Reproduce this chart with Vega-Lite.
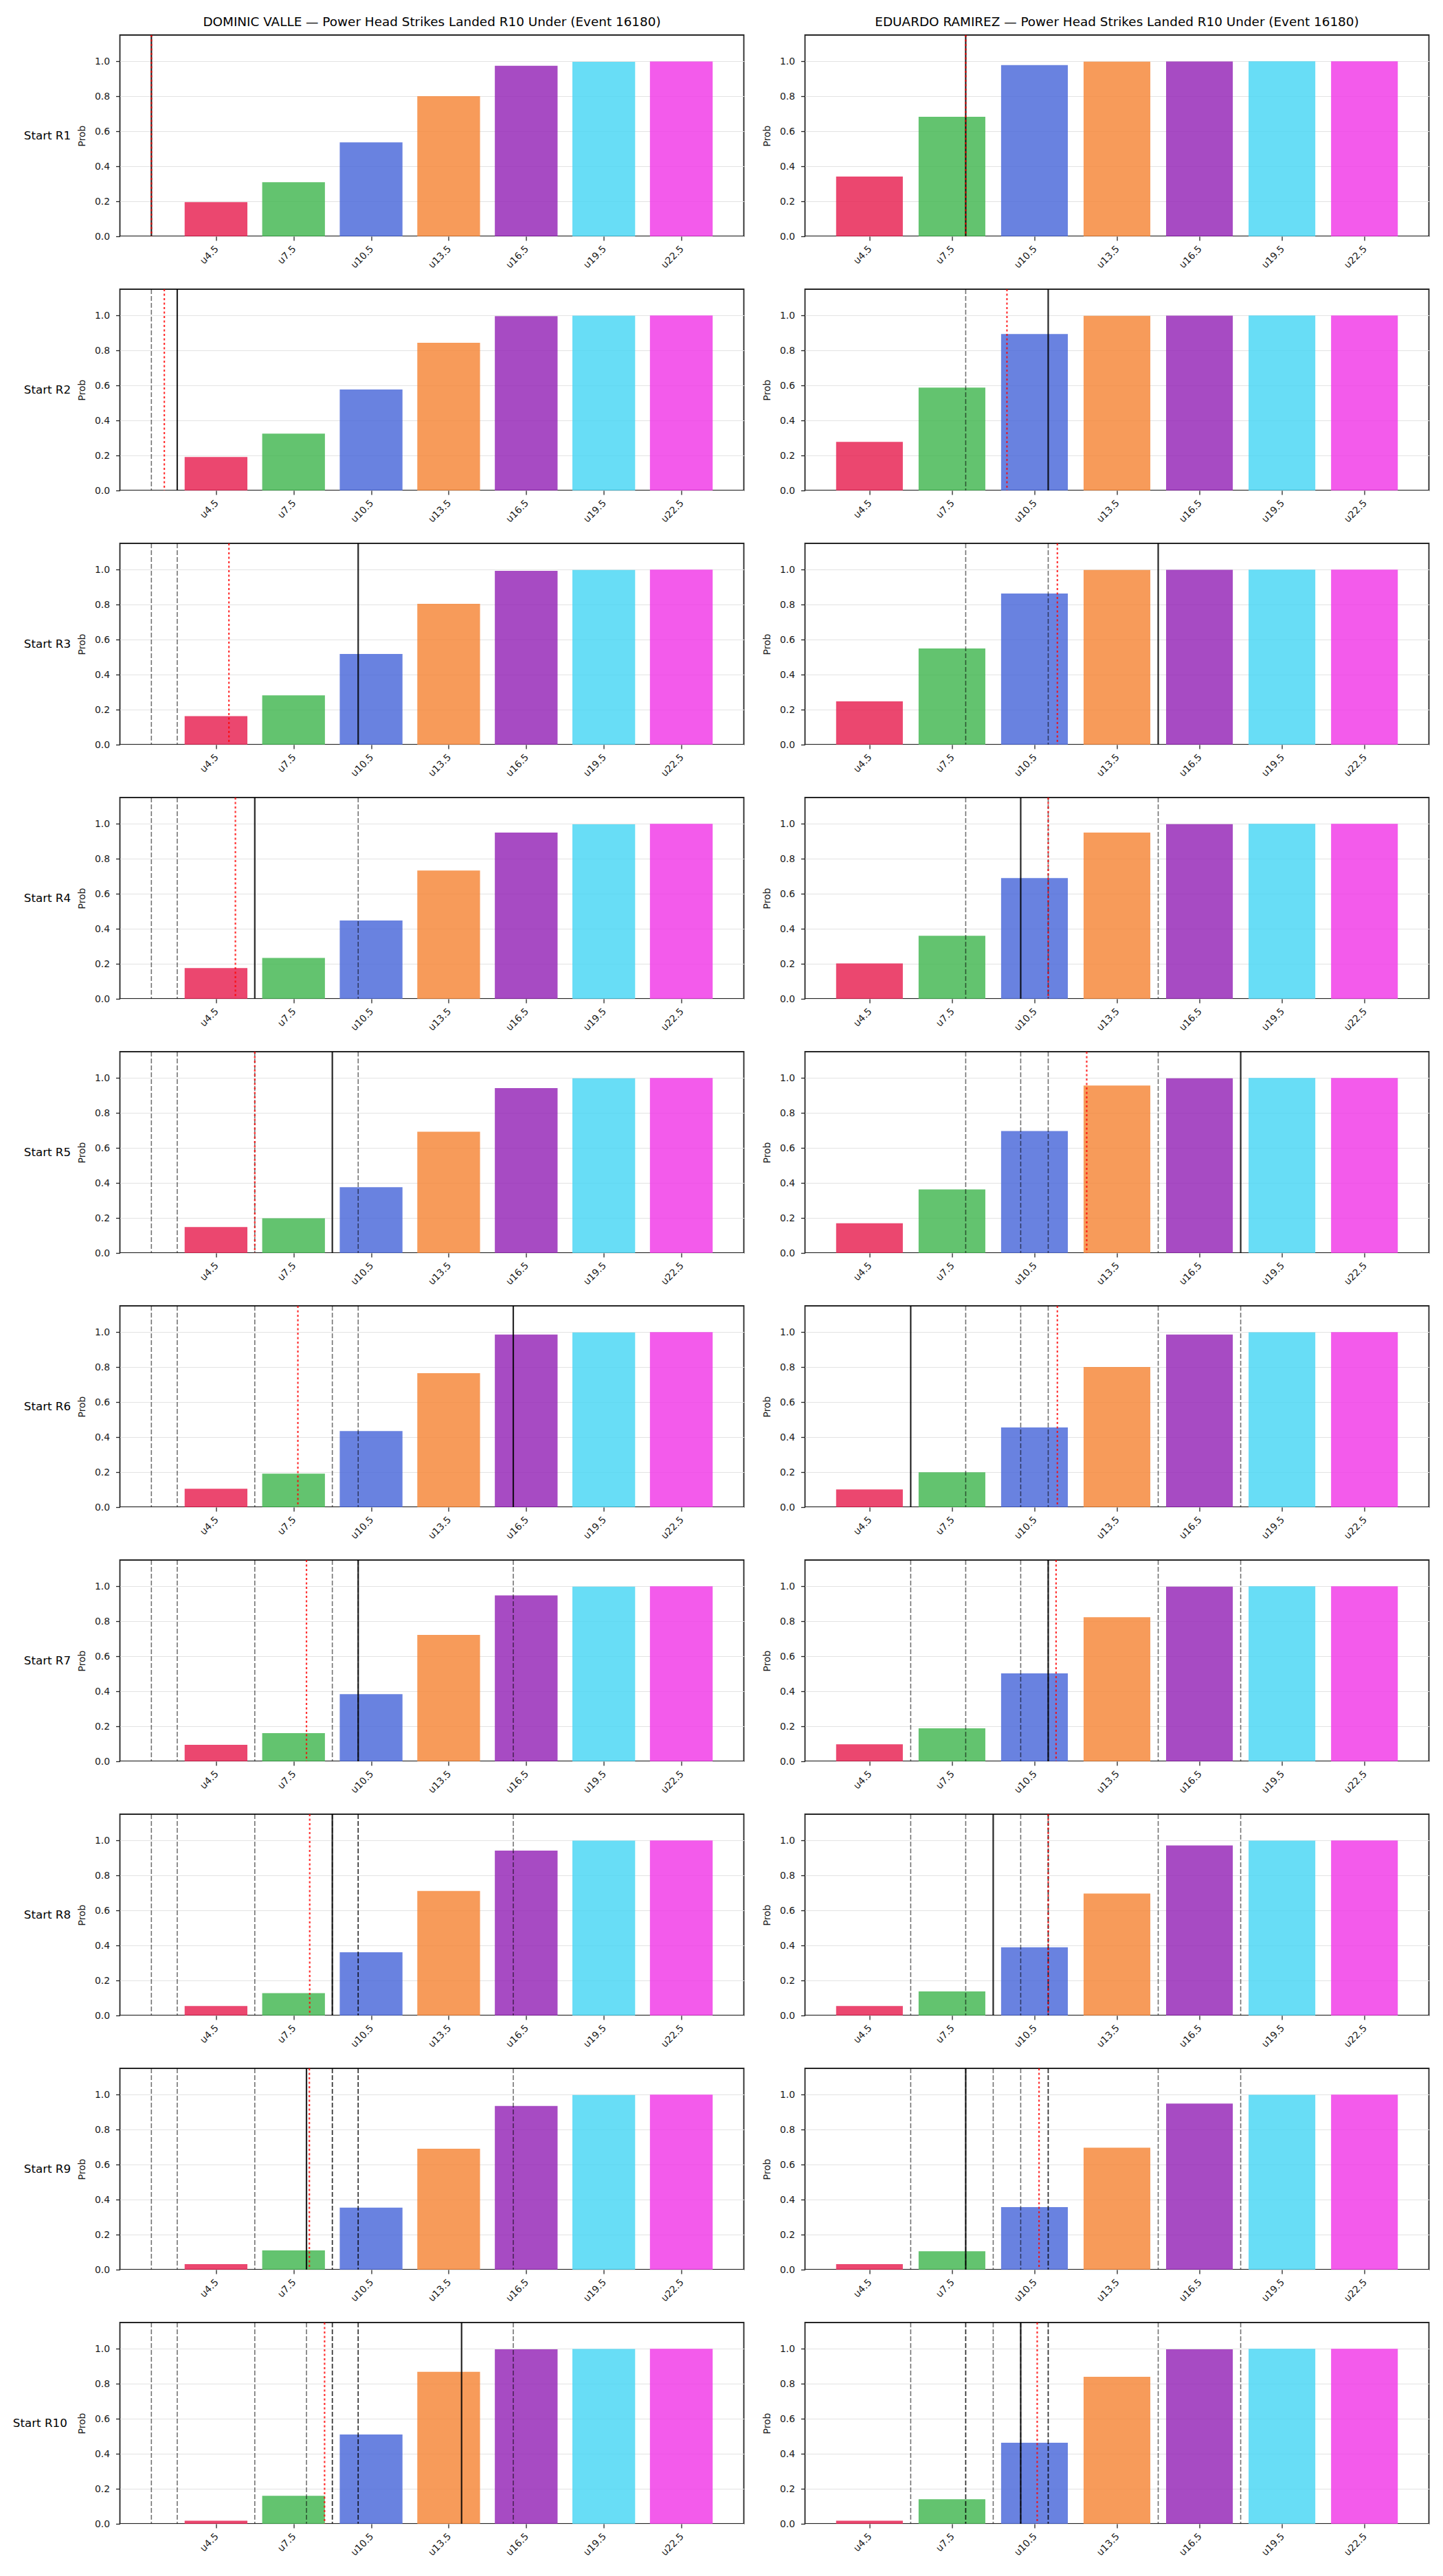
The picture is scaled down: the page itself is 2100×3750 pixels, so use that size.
{
  "$schema": "https://vega.github.io/schema/vega-lite/v6.json",
  "background": "white",
  "padding": {"left": 18.5, "top": 22, "right": 5, "bottom": 10},
  "config": {
    "font": "DejaVu Sans",
    "view": {"stroke": "#262626", "strokeWidth": 1.8},
    "title": {"fontSize": 18.4, "fontWeight": "normal", "color": "#000000", "anchor": "middle", "frame": "group", "baseline": "alphabetic", "offset": 8, "dx": 454},
    "axis": {"labelFontSize": 13.9, "labelColor": "#1a1a1a", "tickColor": "#262626", "tickSize": 6, "tickWidth": 1.3, "domain": false, "titleFontSize": 13.9, "titleFontWeight": "normal", "titleColor": "#1a1a1a"},
    "header": {"labelFontSize": 16.7, "labelColor": "#000000"}
  },
  "datasets": {
    "valle": [
      {"start": "Start R1", "kind": "bar", "line": "u4.5", "strike": 4.5, "prob": 0.195},
      {"start": "Start R1", "kind": "bar", "line": "u7.5", "strike": 7.5, "prob": 0.309},
      {"start": "Start R1", "kind": "bar", "line": "u10.5", "strike": 10.5, "prob": 0.537},
      {"start": "Start R1", "kind": "bar", "line": "u13.5", "strike": 13.5, "prob": 0.801},
      {"start": "Start R1", "kind": "bar", "line": "u16.5", "strike": 16.5, "prob": 0.974},
      {"start": "Start R1", "kind": "bar", "line": "u19.5", "strike": 19.5, "prob": 0.997},
      {"start": "Start R1", "kind": "bar", "line": "u22.5", "strike": 22.5, "prob": 0.999},
      {"start": "Start R2", "kind": "bar", "line": "u4.5", "strike": 4.5, "prob": 0.191},
      {"start": "Start R2", "kind": "bar", "line": "u7.5", "strike": 7.5, "prob": 0.325},
      {"start": "Start R2", "kind": "bar", "line": "u10.5", "strike": 10.5, "prob": 0.577},
      {"start": "Start R2", "kind": "bar", "line": "u13.5", "strike": 13.5, "prob": 0.844},
      {"start": "Start R2", "kind": "bar", "line": "u16.5", "strike": 16.5, "prob": 0.996},
      {"start": "Start R2", "kind": "bar", "line": "u19.5", "strike": 19.5, "prob": 0.999},
      {"start": "Start R2", "kind": "bar", "line": "u22.5", "strike": 22.5, "prob": 1.0},
      {"start": "Start R3", "kind": "bar", "line": "u4.5", "strike": 4.5, "prob": 0.163},
      {"start": "Start R3", "kind": "bar", "line": "u7.5", "strike": 7.5, "prob": 0.282},
      {"start": "Start R3", "kind": "bar", "line": "u10.5", "strike": 10.5, "prob": 0.518},
      {"start": "Start R3", "kind": "bar", "line": "u13.5", "strike": 13.5, "prob": 0.805},
      {"start": "Start R3", "kind": "bar", "line": "u16.5", "strike": 16.5, "prob": 0.993},
      {"start": "Start R3", "kind": "bar", "line": "u19.5", "strike": 19.5, "prob": 0.998},
      {"start": "Start R3", "kind": "bar", "line": "u22.5", "strike": 22.5, "prob": 1.0},
      {"start": "Start R4", "kind": "bar", "line": "u4.5", "strike": 4.5, "prob": 0.176},
      {"start": "Start R4", "kind": "bar", "line": "u7.5", "strike": 7.5, "prob": 0.234},
      {"start": "Start R4", "kind": "bar", "line": "u10.5", "strike": 10.5, "prob": 0.447},
      {"start": "Start R4", "kind": "bar", "line": "u13.5", "strike": 13.5, "prob": 0.733},
      {"start": "Start R4", "kind": "bar", "line": "u16.5", "strike": 16.5, "prob": 0.95},
      {"start": "Start R4", "kind": "bar", "line": "u19.5", "strike": 19.5, "prob": 0.997},
      {"start": "Start R4", "kind": "bar", "line": "u22.5", "strike": 22.5, "prob": 1.0},
      {"start": "Start R5", "kind": "bar", "line": "u4.5", "strike": 4.5, "prob": 0.148},
      {"start": "Start R5", "kind": "bar", "line": "u7.5", "strike": 7.5, "prob": 0.198},
      {"start": "Start R5", "kind": "bar", "line": "u10.5", "strike": 10.5, "prob": 0.376},
      {"start": "Start R5", "kind": "bar", "line": "u13.5", "strike": 13.5, "prob": 0.693},
      {"start": "Start R5", "kind": "bar", "line": "u16.5", "strike": 16.5, "prob": 0.942},
      {"start": "Start R5", "kind": "bar", "line": "u19.5", "strike": 19.5, "prob": 0.998},
      {"start": "Start R5", "kind": "bar", "line": "u22.5", "strike": 22.5, "prob": 1.0},
      {"start": "Start R6", "kind": "bar", "line": "u4.5", "strike": 4.5, "prob": 0.105},
      {"start": "Start R6", "kind": "bar", "line": "u7.5", "strike": 7.5, "prob": 0.191},
      {"start": "Start R6", "kind": "bar", "line": "u10.5", "strike": 10.5, "prob": 0.435},
      {"start": "Start R6", "kind": "bar", "line": "u13.5", "strike": 13.5, "prob": 0.765},
      {"start": "Start R6", "kind": "bar", "line": "u16.5", "strike": 16.5, "prob": 0.986},
      {"start": "Start R6", "kind": "bar", "line": "u19.5", "strike": 19.5, "prob": 0.998},
      {"start": "Start R6", "kind": "bar", "line": "u22.5", "strike": 22.5, "prob": 1.0},
      {"start": "Start R7", "kind": "bar", "line": "u4.5", "strike": 4.5, "prob": 0.094},
      {"start": "Start R7", "kind": "bar", "line": "u7.5", "strike": 7.5, "prob": 0.161},
      {"start": "Start R7", "kind": "bar", "line": "u10.5", "strike": 10.5, "prob": 0.384},
      {"start": "Start R7", "kind": "bar", "line": "u13.5", "strike": 13.5, "prob": 0.722},
      {"start": "Start R7", "kind": "bar", "line": "u16.5", "strike": 16.5, "prob": 0.948},
      {"start": "Start R7", "kind": "bar", "line": "u19.5", "strike": 19.5, "prob": 0.998},
      {"start": "Start R7", "kind": "bar", "line": "u22.5", "strike": 22.5, "prob": 1.0},
      {"start": "Start R8", "kind": "bar", "line": "u4.5", "strike": 4.5, "prob": 0.054},
      {"start": "Start R8", "kind": "bar", "line": "u7.5", "strike": 7.5, "prob": 0.128},
      {"start": "Start R8", "kind": "bar", "line": "u10.5", "strike": 10.5, "prob": 0.361},
      {"start": "Start R8", "kind": "bar", "line": "u13.5", "strike": 13.5, "prob": 0.711},
      {"start": "Start R8", "kind": "bar", "line": "u16.5", "strike": 16.5, "prob": 0.942},
      {"start": "Start R8", "kind": "bar", "line": "u19.5", "strike": 19.5, "prob": 0.999},
      {"start": "Start R8", "kind": "bar", "line": "u22.5", "strike": 22.5, "prob": 1.0},
      {"start": "Start R9", "kind": "bar", "line": "u4.5", "strike": 4.5, "prob": 0.031},
      {"start": "Start R9", "kind": "bar", "line": "u7.5", "strike": 7.5, "prob": 0.11},
      {"start": "Start R9", "kind": "bar", "line": "u10.5", "strike": 10.5, "prob": 0.354},
      {"start": "Start R9", "kind": "bar", "line": "u13.5", "strike": 13.5, "prob": 0.691},
      {"start": "Start R9", "kind": "bar", "line": "u16.5", "strike": 16.5, "prob": 0.935},
      {"start": "Start R9", "kind": "bar", "line": "u19.5", "strike": 19.5, "prob": 0.998},
      {"start": "Start R9", "kind": "bar", "line": "u22.5", "strike": 22.5, "prob": 1.0},
      {"start": "Start R10", "kind": "bar", "line": "u4.5", "strike": 4.5, "prob": 0.018},
      {"start": "Start R10", "kind": "bar", "line": "u7.5", "strike": 7.5, "prob": 0.16},
      {"start": "Start R10", "kind": "bar", "line": "u10.5", "strike": 10.5, "prob": 0.51},
      {"start": "Start R10", "kind": "bar", "line": "u13.5", "strike": 13.5, "prob": 0.868},
      {"start": "Start R10", "kind": "bar", "line": "u16.5", "strike": 16.5, "prob": 0.997},
      {"start": "Start R10", "kind": "bar", "line": "u19.5", "strike": 19.5, "prob": 0.999},
      {"start": "Start R10", "kind": "bar", "line": "u22.5", "strike": 22.5, "prob": 1.0},
      {"start": "Start R1", "kind": "round", "strike": 2},
      {"start": "Start R1", "kind": "mean", "strike": 2},
      {"start": "Start R2", "kind": "prior", "strike": 2},
      {"start": "Start R2", "kind": "round", "strike": 3},
      {"start": "Start R2", "kind": "mean", "strike": 2.5},
      {"start": "Start R3", "kind": "prior", "strike": 2},
      {"start": "Start R3", "kind": "prior", "strike": 3},
      {"start": "Start R3", "kind": "round", "strike": 10},
      {"start": "Start R3", "kind": "mean", "strike": 5},
      {"start": "Start R4", "kind": "prior", "strike": 2},
      {"start": "Start R4", "kind": "prior", "strike": 3},
      {"start": "Start R4", "kind": "prior", "strike": 10},
      {"start": "Start R4", "kind": "round", "strike": 6},
      {"start": "Start R4", "kind": "mean", "strike": 5.25},
      {"start": "Start R5", "kind": "prior", "strike": 2},
      {"start": "Start R5", "kind": "prior", "strike": 3},
      {"start": "Start R5", "kind": "prior", "strike": 10},
      {"start": "Start R5", "kind": "prior", "strike": 6},
      {"start": "Start R5", "kind": "round", "strike": 9},
      {"start": "Start R5", "kind": "mean", "strike": 6},
      {"start": "Start R6", "kind": "prior", "strike": 2},
      {"start": "Start R6", "kind": "prior", "strike": 3},
      {"start": "Start R6", "kind": "prior", "strike": 10},
      {"start": "Start R6", "kind": "prior", "strike": 6},
      {"start": "Start R6", "kind": "prior", "strike": 9},
      {"start": "Start R6", "kind": "round", "strike": 16},
      {"start": "Start R6", "kind": "mean", "strike": 7.667},
      {"start": "Start R7", "kind": "prior", "strike": 2},
      {"start": "Start R7", "kind": "prior", "strike": 3},
      {"start": "Start R7", "kind": "prior", "strike": 10},
      {"start": "Start R7", "kind": "prior", "strike": 6},
      {"start": "Start R7", "kind": "prior", "strike": 9},
      {"start": "Start R7", "kind": "prior", "strike": 16},
      {"start": "Start R7", "kind": "round", "strike": 10},
      {"start": "Start R7", "kind": "mean", "strike": 8},
      {"start": "Start R8", "kind": "prior", "strike": 2},
      {"start": "Start R8", "kind": "prior", "strike": 3},
      {"start": "Start R8", "kind": "prior", "strike": 10},
      {"start": "Start R8", "kind": "prior", "strike": 6},
      {"start": "Start R8", "kind": "prior", "strike": 9},
      {"start": "Start R8", "kind": "prior", "strike": 16},
      {"start": "Start R8", "kind": "prior", "strike": 10},
      {"start": "Start R8", "kind": "round", "strike": 9},
      {"start": "Start R8", "kind": "mean", "strike": 8.125},
      {"start": "Start R9", "kind": "prior", "strike": 2},
      {"start": "Start R9", "kind": "prior", "strike": 3},
      {"start": "Start R9", "kind": "prior", "strike": 10},
      {"start": "Start R9", "kind": "prior", "strike": 6},
      {"start": "Start R9", "kind": "prior", "strike": 9},
      {"start": "Start R9", "kind": "prior", "strike": 16},
      {"start": "Start R9", "kind": "prior", "strike": 10},
      {"start": "Start R9", "kind": "prior", "strike": 9},
      {"start": "Start R9", "kind": "round", "strike": 8},
      {"start": "Start R9", "kind": "mean", "strike": 8.111},
      {"start": "Start R10", "kind": "prior", "strike": 2},
      {"start": "Start R10", "kind": "prior", "strike": 3},
      {"start": "Start R10", "kind": "prior", "strike": 10},
      {"start": "Start R10", "kind": "prior", "strike": 6},
      {"start": "Start R10", "kind": "prior", "strike": 9},
      {"start": "Start R10", "kind": "prior", "strike": 16},
      {"start": "Start R10", "kind": "prior", "strike": 10},
      {"start": "Start R10", "kind": "prior", "strike": 9},
      {"start": "Start R10", "kind": "prior", "strike": 8},
      {"start": "Start R10", "kind": "round", "strike": 14},
      {"start": "Start R10", "kind": "mean", "strike": 8.7}
    ],
    "ramirez": [
      {"start": "Start R1", "kind": "bar", "line": "u4.5", "strike": 4.5, "prob": 0.341},
      {"start": "Start R1", "kind": "bar", "line": "u7.5", "strike": 7.5, "prob": 0.683},
      {"start": "Start R1", "kind": "bar", "line": "u10.5", "strike": 10.5, "prob": 0.978},
      {"start": "Start R1", "kind": "bar", "line": "u13.5", "strike": 13.5, "prob": 0.998},
      {"start": "Start R1", "kind": "bar", "line": "u16.5", "strike": 16.5, "prob": 0.999},
      {"start": "Start R1", "kind": "bar", "line": "u19.5", "strike": 19.5, "prob": 1.0},
      {"start": "Start R1", "kind": "bar", "line": "u22.5", "strike": 22.5, "prob": 1.0},
      {"start": "Start R2", "kind": "bar", "line": "u4.5", "strike": 4.5, "prob": 0.278},
      {"start": "Start R2", "kind": "bar", "line": "u7.5", "strike": 7.5, "prob": 0.588},
      {"start": "Start R2", "kind": "bar", "line": "u10.5", "strike": 10.5, "prob": 0.894},
      {"start": "Start R2", "kind": "bar", "line": "u13.5", "strike": 13.5, "prob": 0.998},
      {"start": "Start R2", "kind": "bar", "line": "u16.5", "strike": 16.5, "prob": 0.999},
      {"start": "Start R2", "kind": "bar", "line": "u19.5", "strike": 19.5, "prob": 1.0},
      {"start": "Start R2", "kind": "bar", "line": "u22.5", "strike": 22.5, "prob": 1.0},
      {"start": "Start R3", "kind": "bar", "line": "u4.5", "strike": 4.5, "prob": 0.247},
      {"start": "Start R3", "kind": "bar", "line": "u7.5", "strike": 7.5, "prob": 0.549},
      {"start": "Start R3", "kind": "bar", "line": "u10.5", "strike": 10.5, "prob": 0.863},
      {"start": "Start R3", "kind": "bar", "line": "u13.5", "strike": 13.5, "prob": 0.998},
      {"start": "Start R3", "kind": "bar", "line": "u16.5", "strike": 16.5, "prob": 0.999},
      {"start": "Start R3", "kind": "bar", "line": "u19.5", "strike": 19.5, "prob": 1.0},
      {"start": "Start R3", "kind": "bar", "line": "u22.5", "strike": 22.5, "prob": 1.0},
      {"start": "Start R4", "kind": "bar", "line": "u4.5", "strike": 4.5, "prob": 0.202},
      {"start": "Start R4", "kind": "bar", "line": "u7.5", "strike": 7.5, "prob": 0.36},
      {"start": "Start R4", "kind": "bar", "line": "u10.5", "strike": 10.5, "prob": 0.69},
      {"start": "Start R4", "kind": "bar", "line": "u13.5", "strike": 13.5, "prob": 0.95},
      {"start": "Start R4", "kind": "bar", "line": "u16.5", "strike": 16.5, "prob": 0.998},
      {"start": "Start R4", "kind": "bar", "line": "u19.5", "strike": 19.5, "prob": 1.0},
      {"start": "Start R4", "kind": "bar", "line": "u22.5", "strike": 22.5, "prob": 1.0},
      {"start": "Start R5", "kind": "bar", "line": "u4.5", "strike": 4.5, "prob": 0.17},
      {"start": "Start R5", "kind": "bar", "line": "u7.5", "strike": 7.5, "prob": 0.363},
      {"start": "Start R5", "kind": "bar", "line": "u10.5", "strike": 10.5, "prob": 0.697},
      {"start": "Start R5", "kind": "bar", "line": "u13.5", "strike": 13.5, "prob": 0.957},
      {"start": "Start R5", "kind": "bar", "line": "u16.5", "strike": 16.5, "prob": 0.998},
      {"start": "Start R5", "kind": "bar", "line": "u19.5", "strike": 19.5, "prob": 1.0},
      {"start": "Start R5", "kind": "bar", "line": "u22.5", "strike": 22.5, "prob": 1.0},
      {"start": "Start R6", "kind": "bar", "line": "u4.5", "strike": 4.5, "prob": 0.101},
      {"start": "Start R6", "kind": "bar", "line": "u7.5", "strike": 7.5, "prob": 0.199},
      {"start": "Start R6", "kind": "bar", "line": "u10.5", "strike": 10.5, "prob": 0.455},
      {"start": "Start R6", "kind": "bar", "line": "u13.5", "strike": 13.5, "prob": 0.801},
      {"start": "Start R6", "kind": "bar", "line": "u16.5", "strike": 16.5, "prob": 0.986},
      {"start": "Start R6", "kind": "bar", "line": "u19.5", "strike": 19.5, "prob": 0.999},
      {"start": "Start R6", "kind": "bar", "line": "u22.5", "strike": 22.5, "prob": 1.0},
      {"start": "Start R7", "kind": "bar", "line": "u4.5", "strike": 4.5, "prob": 0.097},
      {"start": "Start R7", "kind": "bar", "line": "u7.5", "strike": 7.5, "prob": 0.188},
      {"start": "Start R7", "kind": "bar", "line": "u10.5", "strike": 10.5, "prob": 0.502},
      {"start": "Start R7", "kind": "bar", "line": "u13.5", "strike": 13.5, "prob": 0.823},
      {"start": "Start R7", "kind": "bar", "line": "u16.5", "strike": 16.5, "prob": 0.998},
      {"start": "Start R7", "kind": "bar", "line": "u19.5", "strike": 19.5, "prob": 1.0},
      {"start": "Start R7", "kind": "bar", "line": "u22.5", "strike": 22.5, "prob": 1.0},
      {"start": "Start R8", "kind": "bar", "line": "u4.5", "strike": 4.5, "prob": 0.054},
      {"start": "Start R8", "kind": "bar", "line": "u7.5", "strike": 7.5, "prob": 0.137},
      {"start": "Start R8", "kind": "bar", "line": "u10.5", "strike": 10.5, "prob": 0.39},
      {"start": "Start R8", "kind": "bar", "line": "u13.5", "strike": 13.5, "prob": 0.697},
      {"start": "Start R8", "kind": "bar", "line": "u16.5", "strike": 16.5, "prob": 0.971},
      {"start": "Start R8", "kind": "bar", "line": "u19.5", "strike": 19.5, "prob": 0.999},
      {"start": "Start R8", "kind": "bar", "line": "u22.5", "strike": 22.5, "prob": 1.0},
      {"start": "Start R9", "kind": "bar", "line": "u4.5", "strike": 4.5, "prob": 0.031},
      {"start": "Start R9", "kind": "bar", "line": "u7.5", "strike": 7.5, "prob": 0.105},
      {"start": "Start R9", "kind": "bar", "line": "u10.5", "strike": 10.5, "prob": 0.357},
      {"start": "Start R9", "kind": "bar", "line": "u13.5", "strike": 13.5, "prob": 0.697},
      {"start": "Start R9", "kind": "bar", "line": "u16.5", "strike": 16.5, "prob": 0.949},
      {"start": "Start R9", "kind": "bar", "line": "u19.5", "strike": 19.5, "prob": 0.999},
      {"start": "Start R9", "kind": "bar", "line": "u22.5", "strike": 22.5, "prob": 1.0},
      {"start": "Start R10", "kind": "bar", "line": "u4.5", "strike": 4.5, "prob": 0.018},
      {"start": "Start R10", "kind": "bar", "line": "u7.5", "strike": 7.5, "prob": 0.14},
      {"start": "Start R10", "kind": "bar", "line": "u10.5", "strike": 10.5, "prob": 0.463},
      {"start": "Start R10", "kind": "bar", "line": "u13.5", "strike": 13.5, "prob": 0.84},
      {"start": "Start R10", "kind": "bar", "line": "u16.5", "strike": 16.5, "prob": 0.997},
      {"start": "Start R10", "kind": "bar", "line": "u19.5", "strike": 19.5, "prob": 1.0},
      {"start": "Start R10", "kind": "bar", "line": "u22.5", "strike": 22.5, "prob": 1.0},
      {"start": "Start R1", "kind": "round", "strike": 8},
      {"start": "Start R1", "kind": "mean", "strike": 8},
      {"start": "Start R2", "kind": "prior", "strike": 8},
      {"start": "Start R2", "kind": "round", "strike": 11},
      {"start": "Start R2", "kind": "mean", "strike": 9.5},
      {"start": "Start R3", "kind": "prior", "strike": 8},
      {"start": "Start R3", "kind": "prior", "strike": 11},
      {"start": "Start R3", "kind": "round", "strike": 15},
      {"start": "Start R3", "kind": "mean", "strike": 11.333},
      {"start": "Start R4", "kind": "prior", "strike": 8},
      {"start": "Start R4", "kind": "prior", "strike": 11},
      {"start": "Start R4", "kind": "prior", "strike": 15},
      {"start": "Start R4", "kind": "round", "strike": 10},
      {"start": "Start R4", "kind": "mean", "strike": 11},
      {"start": "Start R5", "kind": "prior", "strike": 8},
      {"start": "Start R5", "kind": "prior", "strike": 11},
      {"start": "Start R5", "kind": "prior", "strike": 15},
      {"start": "Start R5", "kind": "prior", "strike": 10},
      {"start": "Start R5", "kind": "round", "strike": 18},
      {"start": "Start R5", "kind": "mean", "strike": 12.4},
      {"start": "Start R6", "kind": "prior", "strike": 8},
      {"start": "Start R6", "kind": "prior", "strike": 11},
      {"start": "Start R6", "kind": "prior", "strike": 15},
      {"start": "Start R6", "kind": "prior", "strike": 10},
      {"start": "Start R6", "kind": "prior", "strike": 18},
      {"start": "Start R6", "kind": "round", "strike": 6},
      {"start": "Start R6", "kind": "mean", "strike": 11.333},
      {"start": "Start R7", "kind": "prior", "strike": 8},
      {"start": "Start R7", "kind": "prior", "strike": 11},
      {"start": "Start R7", "kind": "prior", "strike": 15},
      {"start": "Start R7", "kind": "prior", "strike": 10},
      {"start": "Start R7", "kind": "prior", "strike": 18},
      {"start": "Start R7", "kind": "prior", "strike": 6},
      {"start": "Start R7", "kind": "round", "strike": 11},
      {"start": "Start R7", "kind": "mean", "strike": 11.286},
      {"start": "Start R8", "kind": "prior", "strike": 8},
      {"start": "Start R8", "kind": "prior", "strike": 11},
      {"start": "Start R8", "kind": "prior", "strike": 15},
      {"start": "Start R8", "kind": "prior", "strike": 10},
      {"start": "Start R8", "kind": "prior", "strike": 18},
      {"start": "Start R8", "kind": "prior", "strike": 6},
      {"start": "Start R8", "kind": "prior", "strike": 11},
      {"start": "Start R8", "kind": "round", "strike": 9},
      {"start": "Start R8", "kind": "mean", "strike": 11},
      {"start": "Start R9", "kind": "prior", "strike": 8},
      {"start": "Start R9", "kind": "prior", "strike": 11},
      {"start": "Start R9", "kind": "prior", "strike": 15},
      {"start": "Start R9", "kind": "prior", "strike": 10},
      {"start": "Start R9", "kind": "prior", "strike": 18},
      {"start": "Start R9", "kind": "prior", "strike": 6},
      {"start": "Start R9", "kind": "prior", "strike": 11},
      {"start": "Start R9", "kind": "prior", "strike": 9},
      {"start": "Start R9", "kind": "round", "strike": 8},
      {"start": "Start R9", "kind": "mean", "strike": 10.667},
      {"start": "Start R10", "kind": "prior", "strike": 8},
      {"start": "Start R10", "kind": "prior", "strike": 11},
      {"start": "Start R10", "kind": "prior", "strike": 15},
      {"start": "Start R10", "kind": "prior", "strike": 10},
      {"start": "Start R10", "kind": "prior", "strike": 18},
      {"start": "Start R10", "kind": "prior", "strike": 6},
      {"start": "Start R10", "kind": "prior", "strike": 11},
      {"start": "Start R10", "kind": "prior", "strike": 9},
      {"start": "Start R10", "kind": "prior", "strike": 8},
      {"start": "Start R10", "kind": "round", "strike": 10},
      {"start": "Start R10", "kind": "mean", "strike": 10.6}
    ]
  },
  "hconcat": [
    {
      "data": {"name": "valle"},
      "title": "DOMINIC VALLE — Power Head Strikes Landed R10 Under (Event 16180)",
      "facet": {
        "row": {
          "field": "start", "type": "nominal",
          "sort": ["Start R1", "Start R2", "Start R3", "Start R4", "Start R5", "Start R6", "Start R7", "Start R8", "Start R9", "Start R10"],
          "header": {"title": null, "labelAngle": 0, "labelOrient": "left", "labelAlign": "center", "labelPadding": -24.8}
        }
      },
      "spacing": 77,
      "bounds": "flush",
      "resolve": {"axis": {"x": "independent"}},
      "spec": {
        "width": 908,
        "height": 293,
        "encoding": {
          "x": {
            "field": "strike", "type": "quantitative",
            "scale": {"domain": [0.915, 24.786], "nice": false, "zero": false},
            "axis": {"values": [4.5, 7.5, 10.5, 13.5, 16.5, 19.5, 22.5], "labelExpr": "'u' + datum.value", "labelAngle": -45, "labelAlign": "right", "labelBaseline": "top", "labelPadding": 5, "labelOffset": -4, "grid": false, "title": null}
          }
        },
        "layer": [
          {
            "transform": [{"filter": "datum.kind === 'bar'"}],
            "mark": {"type": "bar", "width": 91.3, "opacity": 0.8},
            "encoding": {
              "y": {"field": "prob", "type": "quantitative", "title": "Prob",
                    "scale": {"domain": [0, 1.15], "nice": false},
                    "axis": {"values": [0, 0.2, 0.4, 0.6, 0.8, 1.0], "format": ".1f", "grid": true, "gridColor": "#e3e3e3", "gridWidth": 1.1, "labelPadding": 9, "titlePadding": 11}},
              "color": {"field": "line", "type": "nominal", "legend": null,
                        "scale": {"domain": ["u4.5", "u7.5", "u10.5", "u13.5", "u16.5", "u19.5", "u22.5"],
                                  "range": ["#e6194b", "#3cb44b", "#4363d8", "#f58231", "#911eb4", "#42d4f4", "#f032e6"]}}
            }
          },
          {
            "transform": [{"filter": "datum.kind === 'prior'"}],
            "mark": {"type": "rule", "stroke": "#000000", "opacity": 0.55, "strokeWidth": 1.6, "strokeDash": [7, 3]},
            "encoding": {}
          },
          {
            "transform": [{"filter": "datum.kind === 'round'"}],
            "mark": {"type": "rule", "stroke": "#000000", "opacity": 0.85, "strokeWidth": 2.2},
            "encoding": {}
          },
          {
            "transform": [{"filter": "datum.kind === 'mean'"}],
            "mark": {"type": "rule", "stroke": "#ff0000", "opacity": 0.8, "strokeWidth": 2.2, "strokeDash": [3, 3.5]},
            "encoding": {}
          }
        ]
      }
    },
    {
      "data": {"name": "ramirez"},
      "title": "EDUARDO RAMIREZ — Power Head Strikes Landed R10 Under (Event 16180)",
      "facet": {
        "row": {
          "field": "start", "type": "nominal",
          "sort": ["Start R1", "Start R2", "Start R3", "Start R4", "Start R5", "Start R6", "Start R7", "Start R8", "Start R9", "Start R10"],
          "header": {"title": null, "labels": false, "labelPadding": 0}
        }
      },
      "spacing": 77,
      "bounds": "flush",
      "resolve": {"axis": {"x": "independent"}},
      "spec": {
        "width": 908,
        "height": 293,
        "encoding": {
          "x": {
            "field": "strike", "type": "quantitative",
            "scale": {"domain": [2.28, 24.72], "nice": false, "zero": false},
            "axis": {"values": [4.5, 7.5, 10.5, 13.5, 16.5, 19.5, 22.5], "labelExpr": "'u' + datum.value", "labelAngle": -45, "labelAlign": "right", "labelBaseline": "top", "labelPadding": 5, "labelOffset": -4, "grid": false, "title": null}
          }
        },
        "layer": [
          {
            "transform": [{"filter": "datum.kind === 'bar'"}],
            "mark": {"type": "bar", "width": 97.1, "opacity": 0.8},
            "encoding": {
              "y": {"field": "prob", "type": "quantitative", "title": "Prob",
                    "scale": {"domain": [0, 1.15], "nice": false},
                    "axis": {"values": [0, 0.2, 0.4, 0.6, 0.8, 1.0], "format": ".1f", "grid": true, "gridColor": "#e3e3e3", "gridWidth": 1.1, "labelPadding": 9, "titlePadding": 11}},
              "color": {"field": "line", "type": "nominal", "legend": null,
                        "scale": {"domain": ["u4.5", "u7.5", "u10.5", "u13.5", "u16.5", "u19.5", "u22.5"],
                                  "range": ["#e6194b", "#3cb44b", "#4363d8", "#f58231", "#911eb4", "#42d4f4", "#f032e6"]}}
            }
          },
          {
            "transform": [{"filter": "datum.kind === 'prior'"}],
            "mark": {"type": "rule", "stroke": "#000000", "opacity": 0.55, "strokeWidth": 1.6, "strokeDash": [7, 3]},
            "encoding": {}
          },
          {
            "transform": [{"filter": "datum.kind === 'round'"}],
            "mark": {"type": "rule", "stroke": "#000000", "opacity": 0.85, "strokeWidth": 2.2},
            "encoding": {}
          },
          {
            "transform": [{"filter": "datum.kind === 'mean'"}],
            "mark": {"type": "rule", "stroke": "#ff0000", "opacity": 0.8, "strokeWidth": 2.2, "strokeDash": [3, 3.5]},
            "encoding": {}
          }
        ]
      }
    }
  ],
  "spacing": 25
}
